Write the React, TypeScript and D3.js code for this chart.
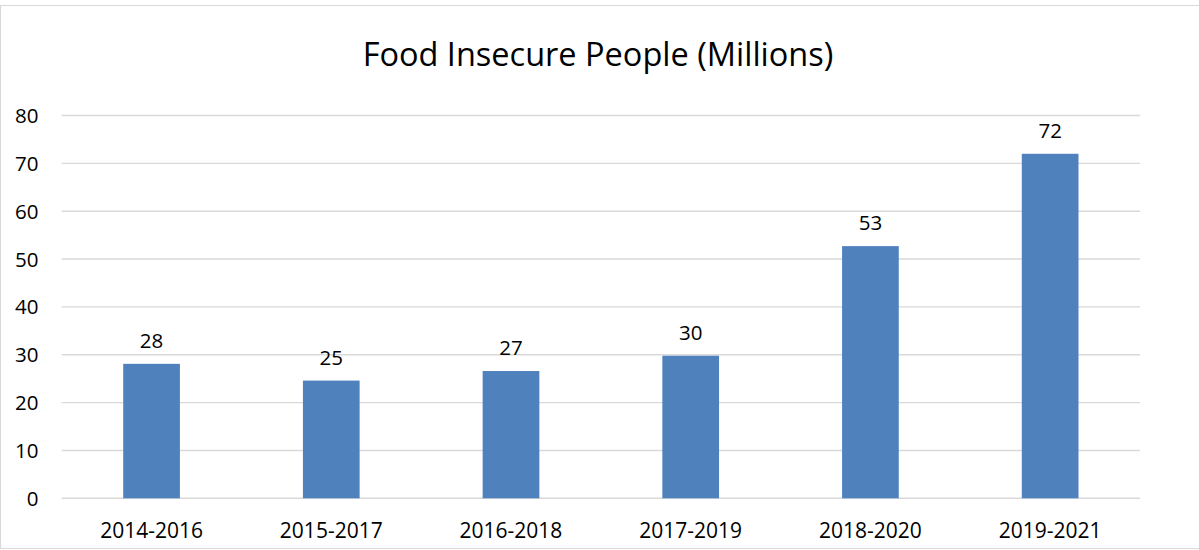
import React, { useEffect, useRef } from "react";
import * as d3 from "d3";

const categories = ["2014-2016", "2015-2017", "2016-2018", "2017-2019", "2018-2020", "2019-2021"];
const values = [28.1, 24.6, 26.6, 29.8, 52.7, 72.0];
const yTicks = [0, 10, 20, 30, 40, 50, 60, 70, 80];
const title = "Food Insecure People (Millions)";

const W = 1199;
const H = 550;
const FONT = "'Open Sans', 'Noto Sans', sans-serif";

export default function App() {
  const ref = useRef<SVGSVGElement>(null);

  useEffect(() => {
    const svg = d3.select(ref.current);
    svg.selectAll("*").remove();

    const left = 61.7, right = 1140, top = 115.5, bottom = 498.3;
    const x = d3.scaleBand<string>().domain(categories).range([left, right]).paddingInner(0.6845).paddingOuter(0.6845 / 2);
    const y = d3.scaleLinear().domain([0, 80]).range([bottom, top]);

    svg.append("rect").attr("x", 0).attr("y", 0).attr("width", W).attr("height", H).attr("fill", "#fff");
    svg.append("path")
      .attr("d", `M${W + 2},5.5 H0.5 V548.5 H${W + 2}`)
      .attr("fill", "none").attr("stroke", "#d9d9d9").attr("stroke-width", 1.2);

    svg.append("text")
      .attr("x", 598).attr("y", 65.5)
      .attr("text-anchor", "middle")
      .attr("font-family", FONT).attr("font-size", 32.5)
      .attr("fill", "#000")
      .text(title);

    // gridlines
    svg.append("g").selectAll("line").data(yTicks).join("line")
      .attr("x1", left).attr("x2", right)
      .attr("y1", (d) => y(d)).attr("y2", (d) => y(d))
      .attr("stroke", "#d9d9d9").attr("stroke-width", 1.4);

    // y labels
    svg.append("g").selectAll("text").data(yTicks).join("text")
      .attr("x", 38.5).attr("y", (d) => y(d) + 7.5)
      .attr("text-anchor", "end")
      .attr("font-family", FONT).attr("font-size", 20.5)
      .attr("fill", "#000")
      .text((d) => String(d));

    // bars
    svg.append("g").selectAll("rect").data(values).join("rect")
      .attr("x", (_, i) => x(categories[i])!)
      .attr("width", x.bandwidth())
      .attr("y", (d) => y(d))
      .attr("height", (d) => y(0) - y(d))
      .attr("fill", "#4f81bd");

    // data labels
    svg.append("g").selectAll("text").data(values).join("text")
      .attr("x", (_, i) => x(categories[i])! + x.bandwidth() / 2)
      .attr("y", (d) => y(d) - 16)
      .attr("text-anchor", "middle")
      .attr("font-family", FONT).attr("font-size", 20.5)
      .attr("fill", "#000")
      .text((d) => String(Math.round(d)));

    // x labels
    svg.append("g").selectAll("text").data(categories).join("text")
      .attr("x", (d) => x(d)! + x.bandwidth() / 2)
      .attr("y", 537.5)
      .attr("text-anchor", "middle")
      .attr("font-family", FONT).attr("font-size", 21)
      .attr("fill", "#000")
      .text((d) => d);
  }, []);

  return (
    <svg ref={ref} width={W} height={H} style={{ position: "absolute", left: 0, top: 0, display: "block" }} />
  );
}
